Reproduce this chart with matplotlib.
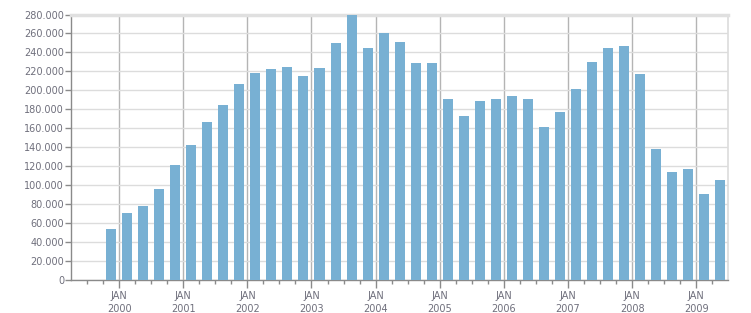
import matplotlib
matplotlib.use("Agg")
import matplotlib.pyplot as plt
from matplotlib.ticker import FuncFormatter, MultipleLocator

# quarterly values, Q4 1999 .. Q2 2009
quarters = ["1999Q4",
            "2000Q1", "2000Q2", "2000Q3", "2000Q4",
            "2001Q1", "2001Q2", "2001Q3", "2001Q4",
            "2002Q1", "2002Q2", "2002Q3", "2002Q4",
            "2003Q1", "2003Q2", "2003Q3", "2003Q4",
            "2004Q1", "2004Q2", "2004Q3", "2004Q4",
            "2005Q1", "2005Q2", "2005Q3", "2005Q4",
            "2006Q1", "2006Q2", "2006Q3", "2006Q4",
            "2007Q1", "2007Q2", "2007Q3", "2007Q4",
            "2008Q1", "2008Q2", "2008Q3", "2008Q4",
            "2009Q1", "2009Q2"]
values = [54500,
          71000, 78500, 96500, 121500,
          142500, 167000, 185000, 207000,
          218500, 222700, 224800, 215300,
          223800, 250000, 280000, 245000,
          260700, 251200, 229000, 229000,
          191000, 173200, 189000, 191000,
          194300, 191000, 161600, 177400,
          201600, 230000, 245000, 247000,
          217500, 138400, 114200, 117300,
          91000, 105700]
years = list(range(2000, 2010))

# bar centre = middle of the quarter, in fractional years
pos = [int(q[:4]) + (int(q[-1]) - 1) * 0.25 + 0.125 for q in quarters]

fig = plt.figure(figsize=(7.51, 3.13), dpi=100)
ax = fig.add_axes([71 / 751, (313 - 280.3) / 313, (728.3 - 71) / 751, (280.3 - 14.5) / 313])

ax.bar(pos, values, width=0.25 * 0.625, color="#78b0d3", zorder=3)

ax.set_xlim(1999.25, 2009.5)
ax.set_ylim(0, 280000)

# grid
ax.yaxis.set_major_locator(MultipleLocator(20000))
ax.grid(axis="y", color="#dcdcdc", lw=1, zorder=0)
for y in years:
    ax.axvline(y, color="#b4b4b4", lw=1, zorder=1)

ax.yaxis.set_major_formatter(FuncFormatter(lambda v, p: f"{int(v):,}".replace(",", ".")))
ax.set_xticks(years)
ax.set_xticklabels([f"JAN\n{y}" for y in years])
ax.set_xticks([y + q * 0.25 for y in range(1999, 2010) for q in range(4)
               if 1999.25 < y + q * 0.25 < 2009.5 and q != 0], minor=True)

lab = "#6f6f7c"
ax.tick_params(axis="y", length=4, width=1, color="#8a8a8a", labelsize=7, labelcolor=lab, pad=1)
ax.tick_params(axis="x", which="major", length=6, width=1, color="#8a8a8a", labelsize=7,
               labelcolor=lab, pad=2)
ax.tick_params(axis="x", which="minor", length=3, width=1, color="#8a8a8a")
for t in ax.get_xticklabels():
    t.set_linespacing(1.3)

for s in ["left", "bottom"]:
    ax.spines[s].set_color("#8a8a8a")
    ax.spines[s].set_linewidth(1)
ax.spines["top"].set_color("#e0e0e0")
ax.spines["top"].set_linewidth(2.5)
ax.spines["right"].set_color("#dcdcdc")
ax.spines["right"].set_linewidth(1.2)

fig.savefig("out.png", dpi=100)
